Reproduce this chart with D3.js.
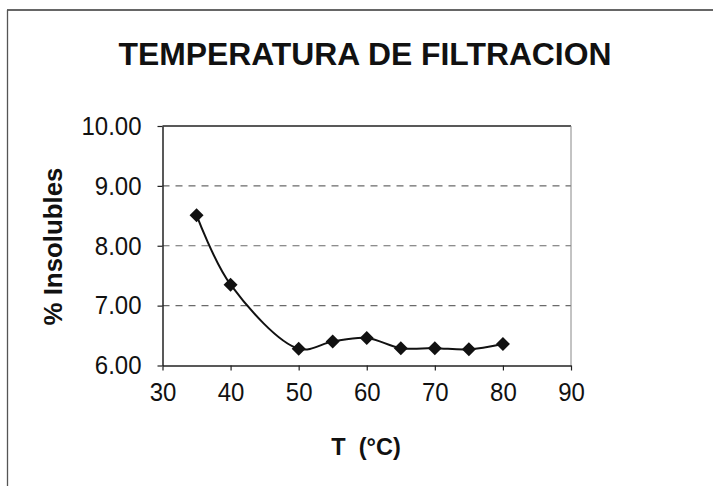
<!DOCTYPE html>
<html>
<head>
<meta charset="utf-8">
<script src="https://cdn.jsdelivr.net/npm/d3@7"></script>
<style>
  html, body { margin: 0; padding: 0; background: #fff; }
  svg { display: block; }
  text { font-family: Arial, "Liberation Sans", sans-serif; fill: #111; }
</style>
</head>
<body>
<svg id="chart" width="717" height="486"></svg>
<script>
const title = "TEMPERATURA DE FILTRACION";
const xLabel = "T  (°C)";
const yLabel = "% Insolubles";
const temps = [35, 40, 50, 55, 60, 65, 70, 75, 80];
const insolubles = [8.51, 7.35, 6.28, 6.40, 6.46, 6.29, 6.29, 6.27, 6.36];
const xTicks = [30, 40, 50, 60, 70, 80, 90];
const yTicks = [6, 7, 8, 9, 10];
const gridValues = [7, 8, 9];

const svg = d3.select("#chart");
const L = 162.5, R = 571, T = 126, B = 365.5;

const x = d3.scaleLinear().domain([30, 90]).range([L, R]);
const y = d3.scaleLinear().domain([6, 10]).range([B, T]);

// outer (scanned) frame lines
svg.append("line").attr("x1", 7).attr("x2", 713).attr("y1", 10).attr("y2", 10)
  .attr("stroke", "#333").attr("stroke-width", 1.4);
svg.append("line").attr("x1", 7.5).attr("x2", 7.5).attr("y1", 10).attr("y2", 486)
  .attr("stroke", "#555").attr("stroke-width", 1.3);

// title
svg.append("text").attr("x", 365).attr("y", 65)
  .attr("text-anchor", "middle").attr("font-weight", "bold")
  .attr("font-size", 31).attr("textLength", 493).attr("lengthAdjust", "spacingAndGlyphs")
  .text(title);

// gridlines
svg.append("g").selectAll("line").data(gridValues).join("line")
  .attr("x1", L).attr("x2", R)
  .attr("y1", d => y(d)).attr("y2", d => y(d))
  .attr("stroke", "#6a6a6a").attr("stroke-width", 1.2)
  .attr("stroke-dasharray", "7,6");

// plot frame top/right
svg.append("line").attr("x1", L).attr("x2", R).attr("y1", T).attr("y2", T)
  .attr("stroke", "#222").attr("stroke-width", 1.5);
svg.append("line").attr("x1", R).attr("x2", R).attr("y1", T).attr("y2", B)
  .attr("stroke", "#888").attr("stroke-width", 1);

function styleTicks(g) {
  g.selectAll(".tick text")
    .attr("font-size", 26).attr("fill", "#111")
    .attr("font-family", "Arial, 'Liberation Sans', sans-serif")
    .each(function () {
      const len = this.getComputedTextLength();
      d3.select(this).attr("textLength", len * 24 / 26).attr("lengthAdjust", "spacingAndGlyphs");
    });
}

// axes
const xAxis = d3.axisBottom(x).tickValues(xTicks).tickSize(5).tickSizeOuter(0).tickPadding(12)
  .tickFormat(d3.format("d"));
const gx = svg.append("g").attr("transform", `translate(0,${B})`).call(xAxis);
gx.select(".domain").attr("stroke", "#222").attr("stroke-width", 1.5);
gx.selectAll(".tick line").attr("stroke", "#222").attr("stroke-width", 1.2);
styleTicks(gx);

const yAxis = d3.axisLeft(y).tickValues(yTicks).tickSize(5).tickSizeOuter(0).tickPadding(16)
  .tickFormat(d3.format(".2f"));
const gy = svg.append("g").attr("transform", `translate(${L},0)`).call(yAxis);
gy.select(".domain").attr("stroke", "#222").attr("stroke-width", 1.5);
gy.selectAll(".tick line").attr("stroke", "#222").attr("stroke-width", 1.2);
styleTicks(gy);

// axis titles
svg.append("text").attr("x", 366).attr("y", 455)
  .attr("text-anchor", "middle").attr("font-weight", "bold").attr("font-size", 23.5)
  .style("white-space", "pre").attr("xml:space", "preserve")
  .text(xLabel);
svg.append("text")
  .attr("transform", `translate(62,${246.5}) rotate(-90)`)
  .attr("text-anchor", "middle").attr("font-weight", "bold").attr("font-size", 25)
  .attr("textLength", 158).attr("lengthAdjust", "spacingAndGlyphs")
  .text(yLabel);

// data
const data = temps.map((t, i) => ({ t, v: insolubles[i] }));
const line = d3.line().x(d => x(d.t)).y(d => y(d.v)).curve(d3.curveCatmullRom.alpha(0.5));
svg.append("path").datum(data).attr("d", line)
  .attr("fill", "none").attr("stroke", "#111").attr("stroke-width", 2);

const s = 7;
svg.append("g").selectAll("path").data(data).join("path")
  .attr("transform", d => `translate(${x(d.t)},${y(d.v)})`)
  .attr("d", `M0,${-s}L${s},0L0,${s}L${-s},0Z`)
  .attr("fill", "#111");
</script>
</body>
</html>
